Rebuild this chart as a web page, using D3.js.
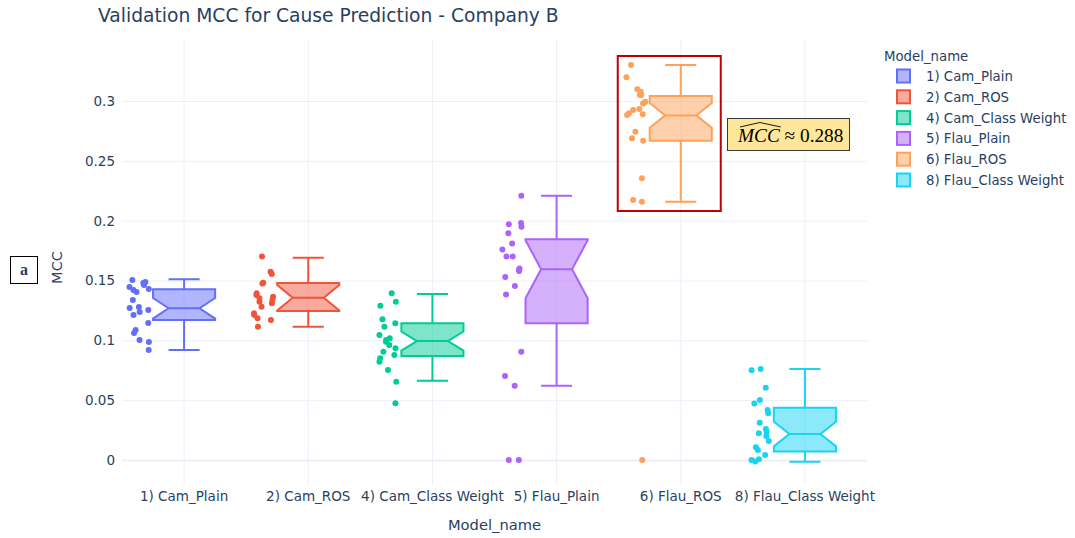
<!DOCTYPE html>
<html>
<head>
<meta charset="utf-8">
<script src="https://cdn.jsdelivr.net/npm/d3@7"></script>
<style>
  body { margin: 0; background: #fff; }
  svg { display: block; }
  text { font-family: "DejaVu Sans", verdana, arial, sans-serif; fill: #2a3f5f; }
</style>
</head>
<body>
<svg id="chart" width="1075" height="538"></svg>
<script>
// ---- data -------------------------------------------------------------
const categories = ["1) Cam_Plain", "2) Cam_ROS", "4) Cam_Class Weight",
                    "5) Flau_Plain", "6) Flau_ROS", "8) Flau_Class Weight"];
const colors = ["#636efa", "#EF553B", "#00cc96", "#ab63fa", "#FFA15A", "#19d3f3"];

// box statistics per model
const lowerFence = [0.0919, 0.1114, 0.0663, 0.0621, 0.2159, -0.0014];
const q1         = [0.1170, 0.1245, 0.0869, 0.1142, 0.2668, 0.0070];
const median     = [0.1268, 0.1356, 0.0994, 0.1594, 0.288, 0.0217];
const q3         = [0.1426, 0.1480, 0.1142, 0.1844, 0.3042, 0.0437];
const upperFence = [0.1510, 0.1690, 0.1387, 0.2209, 0.3301, 0.0760];
const notchHalf  = [0.0086, 0.0106, 0.0080, 0.0243, 0.0104, 0.0103];

// individual validation runs
const camPlain = [0.1504, 0.1487, 0.1479, 0.1462, 0.1446, 0.1430, 0.1421, 0.1404, 0.1337, 0.1279,
                  0.1270, 0.1254, 0.1237, 0.1212, 0.1145, 0.1086, 0.1061, 0.1003, 0.0986, 0.0919];
const camROS = [0.1700, 0.1574, 0.1554, 0.1482, 0.1476, 0.1393, 0.1379, 0.1365, 0.1351, 0.1337,
                0.1323, 0.1309, 0.1281, 0.1226, 0.1212, 0.1184, 0.1170, 0.1114];
const camClassWeight = [0.1393, 0.1323, 0.1290, 0.1176, 0.1142, 0.1114, 0.1045, 0.1017, 0.1003, 0.0989,
                        0.0961, 0.0933, 0.0905, 0.0877, 0.0850, 0.0822, 0.0752, 0.0654, 0.0474];
const flauPlain = [0.2209, 0.1980, 0.1970, 0.1950, 0.1894, 0.1810, 0.1760, 0.1700, 0.1700, 0.1600,
                   0.1590, 0.1580, 0.1530, 0.1454, 0.1384, 0.0905, 0.0702, 0.0621, 0.0, 0.0];
const flauROS = [0.3301, 0.3198, 0.3098, 0.3078, 0.3050, 0.3050, 0.2994, 0.2980, 0.2933, 0.2925,
                 0.2897, 0.2890, 0.2883, 0.2744, 0.2688, 0.2668, 0.2354, 0.2173, 0.2159, 0.0];
const flauClassWeight = [0.0760, 0.0750, 0.0604, 0.0501, 0.0473, 0.0418, 0.0390, 0.0312, 0.0259, 0.0237,
                         0.0223, 0.0200, 0.0159, 0.0106, 0.0084, 0.0042, 0.0006, 0.0, -0.0012];
const runs = [camPlain, camROS, camClassWeight, flauPlain, flauROS, flauClassWeight];

const yTicks = [0, 0.05, 0.1, 0.15, 0.2, 0.25, 0.3];
const yTickLabels = ["0", "0.05", "0.1", "0.15", "0.2", "0.25", "0.3"];

const chartTitle = "Validation MCC for Cause Prediction - Company B";
const xTitle = "Model_name";
const yTitle = "MCC";
const highlightIndex = 4;

// ---- layout -----------------------------------------------------------
const FONT = '"DejaVu Sans", verdana, arial, sans-serif';
const svg = d3.select("#chart");
const plot = { left: 122, right: 867, top: 40, bottom: 485 };
const gridColor = "#ebf0f8";

const x = d3.scaleBand().domain(categories).range([plot.left, plot.right]).padding(0);
const y = d3.scaleLinear().domain([-0.0209, 0.351]).range([plot.bottom, plot.top]);
const bw = x.bandwidth();
const boxW = bw * 0.5;
const cx = c => x(c) + bw / 2;

// grid
const gy = svg.append("g").attr("transform", `translate(${plot.left},0)`)
  .call(d3.axisLeft(y).tickValues(yTicks).tickSize(-(plot.right - plot.left)).tickFormat(""));
gy.select(".domain").remove();
gy.selectAll("line").attr("stroke", gridColor).attr("stroke-width", d => d === 0 ? 2 : 1);

const gx = svg.append("g").attr("transform", `translate(0,${plot.bottom})`)
  .call(d3.axisBottom(x).tickSize(-(plot.bottom - plot.top)).tickFormat(""));
gx.select(".domain").remove();
gx.selectAll("line").attr("stroke", gridColor).attr("stroke-width", 1);

// tick labels
const yAxis = svg.append("g").attr("transform", `translate(${plot.left},0)`)
  .call(d3.axisLeft(y).tickValues(yTicks).tickSize(0).tickPadding(7)
        .tickFormat((d, i) => yTickLabels[i]));
yAxis.select(".domain").remove();
yAxis.selectAll("text").attr("font-size", 13.5).attr("fill", "#2a3f5f").style("font-family", FONT);

const xAxis = svg.append("g").attr("transform", `translate(0,${plot.bottom})`)
  .call(d3.axisBottom(x).tickSize(0).tickPadding(6));
xAxis.select(".domain").remove();
xAxis.selectAll("text").attr("font-size", 13.5).attr("fill", "#2a3f5f").style("font-family", FONT);

// boxes
categories.forEach((c, i) => {
  const col = colors[i];
  const mid = cx(c);
  const p0 = mid - boxW / 2, p1 = mid + boxW / 2;
  const pm0 = mid - boxW / 4, pm1 = mid + boxW / 4;
  const m = y(median[i]);
  const ln = y(median[i] - notchHalf[i]);
  const un = y(median[i] + notchHalf[i]);
  const yq1 = y(q1[i]), yq3 = y(q3[i]);
  const g = svg.append("g");

  // whiskers + caps
  g.append("path")
    .attr("d", `M${mid},${yq1}V${y(lowerFence[i])}M${mid},${yq3}V${y(upperFence[i])}` +
               `M${mid - boxW / 4},${y(lowerFence[i])}H${mid + boxW / 4}` +
               `M${mid - boxW / 4},${y(upperFence[i])}H${mid + boxW / 4}`)
    .attr("fill", "none").attr("stroke", col).attr("stroke-width", 2);

  // notched body
  g.append("path")
    .attr("d", `M${pm0},${m}L${p0},${ln}V${yq1}H${p1}V${ln}L${pm1},${m}` +
               `L${p1},${un}V${yq3}H${p0}V${un}Z` +
               `M${pm0},${m}H${pm1}`)
    .attr("fill", col).attr("fill-opacity", 0.5)
    .attr("stroke", col).attr("stroke-width", 2).attr("stroke-linejoin", "miter");

  // jittered runs, left of the box
  const rng = d3.randomLcg(0.137 + i * 0.071);
  g.selectAll("circle").data(runs[i]).join("circle")
    .attr("cx", () => mid - bw * 0.362 + (rng() - 0.5) * bw * 0.16)
    .attr("cy", d => y(d))
    .attr("r", 3)
    .attr("fill", col);
});

// highlight frame around the best model
const hc = cx(categories[highlightIndex]);
svg.append("rect")
  .attr("x", hc - 63).attr("y", 56).attr("width", 103).attr("height", 155)
  .attr("fill", "none").attr("stroke", "#c00000").attr("stroke-width", 2);

// median call-out
const ann = svg.append("g");
ann.append("rect")
  .attr("x", 727.5).attr("y", 118.5).attr("width", 122).attr("height", 32)
  .attr("fill", "#ffe699").attr("stroke", "#3a3a3a").attr("stroke-width", 1);
const annText = ann.append("text")
  .attr("x", 738).attr("y", 142)
  .style("font-family", '"Liberation Serif", "Times New Roman", serif')
  .attr("font-size", 19.3).attr("fill", "#000");
annText.append("tspan").attr("font-style", "italic").attr("fill", "#000").text("MCC");
annText.append("tspan").attr("fill", "#000").text(" \u2248 " + median[highlightIndex].toFixed(3));
const hatW = annText.select("tspan").node().getComputedTextLength();
ann.append("path")
  .attr("d", `M${740},${127}L${738 + hatW / 2 + 1},${122.5}L${738 + hatW + 1},${127}`)
  .attr("fill", "none").attr("stroke", "#000").attr("stroke-width", 0.9);

// titles
svg.append("text").attr("x", 98).attr("y", 22)
  .attr("font-size", 18.7).text(chartTitle);
svg.append("text").attr("x", (plot.left + plot.right) / 2).attr("y", 530)
  .attr("text-anchor", "middle").attr("font-size", 14.7).text(xTitle);
svg.append("text")
  .attr("transform", `translate(62,${(plot.top + plot.bottom) / 2 + 5}) rotate(-90)`)
  .attr("text-anchor", "middle").attr("font-size", 14.5).text(yTitle);

// panel tag
svg.append("rect").attr("x", 10.5).attr("y", 256.5).attr("width", 27).attr("height", 27)
  .attr("fill", "#fff").attr("stroke", "#000").attr("stroke-width", 1);
svg.append("text").attr("x", 24).attr("y", 275)
  .attr("text-anchor", "middle")
  .style("font-family", '"Liberation Serif", "Times New Roman", serif')
  .attr("font-weight", "bold").attr("font-size", 16).attr("fill", "#000").text("a");

// legend
const leg = svg.append("g").attr("transform", "translate(884,0)");
leg.append("text").attr("x", 0).attr("y", 61).attr("font-size", 13.3).text(xTitle);
categories.forEach((c, i) => {
  const yy = 76 + i * 20.8;
  leg.append("rect").attr("x", 13).attr("y", yy - 6.5).attr("width", 13).attr("height", 13)
    .attr("fill", colors[i]).attr("fill-opacity", 0.5)
    .attr("stroke", colors[i]).attr("stroke-width", 2);
  leg.append("text").attr("x", 42).attr("y", yy + 5).attr("font-size", 13.3).text(c);
});
</script>
</body>
</html>
